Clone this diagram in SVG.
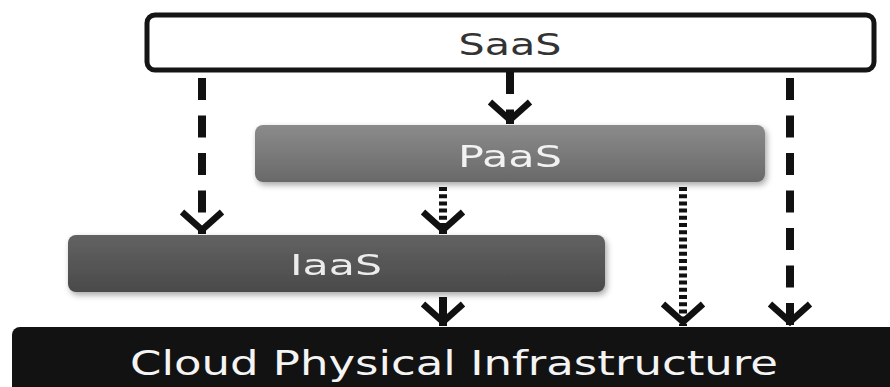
<svg xmlns="http://www.w3.org/2000/svg" width="890" height="387" viewBox="0 0 890 387">
  <style>
    .label { font-family: "DejaVu Sans", Verdana, sans-serif; text-anchor: middle; }
    .link { fill: none; stroke: #111; stroke-width: 8; stroke-linecap: butt; }
    .dash { stroke-dasharray: 22 15.5; }
    .dot { stroke-dasharray: 4 3.2; }
  </style>
  <defs>
    <linearGradient id="gPaas" x1="0" y1="0" x2="0" y2="1">
      <stop offset="0" stop-color="#8b8b8b"/>
      <stop offset="1" stop-color="#696969"/>
    </linearGradient>
    <linearGradient id="gIaas" x1="0" y1="0" x2="0" y2="1">
      <stop offset="0" stop-color="#626262"/>
      <stop offset="1" stop-color="#4a4a4a"/>
    </linearGradient>
    <filter id="shadow" x="-5%" y="-20%" width="112%" height="160%">
      <feGaussianBlur in="SourceAlpha" stdDeviation="3"/>
      <feOffset dx="2" dy="3" result="b"/>
      <feComponentTransfer><feFuncA type="linear" slope="0.35"/></feComponentTransfer>
      <feMerge><feMergeNode/><feMergeNode in="SourceGraphic"/></feMerge>
    </filter>
    <!-- open chevron arrowhead, tip at the path end -->
    <marker id="chev" markerUnits="userSpaceOnUse" viewBox="-26 -26 30 52" markerWidth="30" markerHeight="52" refX="0" refY="0" orient="auto">
      <path d="M-22,-20 L-4,0 L-22,20" fill="none" stroke="#111" stroke-width="6.5" stroke-linejoin="miter"/>
    </marker>
  </defs>

  <rect width="890" height="387" fill="#fff"/>

  <g id="node-saas">
    <rect x="147" y="15" width="727" height="55" rx="8" fill="#fff" stroke="#151515" stroke-width="5"/>
    <text class="label" x="510" y="55" font-size="30" fill="#333" textLength="103" lengthAdjust="spacingAndGlyphs">SaaS</text>
  </g>

  <g id="node-paas" filter="url(#shadow)">
    <rect x="255" y="125" width="510" height="57" rx="8" fill="url(#gPaas)"/>
    <text class="label" x="510" y="167" font-size="30" fill="#f2f2f2" textLength="104" lengthAdjust="spacingAndGlyphs">PaaS</text>
  </g>

  <g id="node-iaas" filter="url(#shadow)">
    <rect x="68" y="235" width="537" height="57" rx="8" fill="url(#gIaas)"/>
    <text class="label" x="336" y="275" font-size="29" fill="#ececec" textLength="92" lengthAdjust="spacingAndGlyphs">IaaS</text>
  </g>

  <g id="node-cloud">
    <rect x="12" y="327" width="890" height="80" rx="8" fill="#121212"/>
    <text class="label" x="454" y="375" font-size="33" fill="#f4f4f4" textLength="648" lengthAdjust="spacingAndGlyphs">Cloud Physical Infrastructure</text>
  </g>

  <g id="connectors">
    <path class="link dash" d="M202,78 V234" marker-end="url(#chev)"/>
    <path class="link dash" d="M510,72 V124" marker-end="url(#chev)"/>
    <path class="link dot" d="M443,187 V234" marker-end="url(#chev)"/>
    <path class="link" d="M443,297 V326" marker-end="url(#chev)"/>
    <path class="link dot" d="M683,187 V326" marker-end="url(#chev)"/>
    <path class="link dash" d="M790,78 V326" marker-end="url(#chev)"/>
  </g>
</svg>
